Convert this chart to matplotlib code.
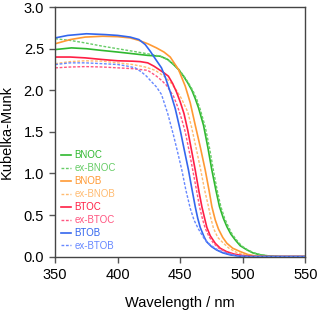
import matplotlib.pyplot as plt

plt.rcParams['font.family'] = ['Liberation Sans', 'DejaVu Sans']

# wavelength (nm) / Kubelka-Munk values
bnoc_x = [350, 363, 375, 387, 400, 412, 424, 434, 440, 444.6, 448.6, 452.6, 456, 459.3, 462, 464.6, 468.6, 472, 475.3, 478.5,
          481.4, 484.5, 487.3, 490.5, 494, 498, 503.4, 508, 514, 522, 530, 550]
bnoc_y = [2.49, 2.51, 2.50, 2.48, 2.46, 2.44, 2.42, 2.41, 2.37, 2.31, 2.25, 2.17, 2.09, 2.0, 1.9, 1.79, 1.58, 1.32, 1.04, 0.8,
          0.6, 0.46, 0.36, 0.27, 0.2, 0.13, 0.08, 0.045, 0.02, 0.005, 0.0, 0.0]

ex_bnoc_x = [350, 362, 374, 388, 400, 412, 423.5, 434, 440, 445, 449, 453, 456.5, 460, 463, 466, 470, 473.5, 476.5, 479.5,
             482.5, 485.5, 488.5, 491.5, 495, 499, 504, 509, 515, 523, 532, 550]
ex_bnoc_y = [2.62, 2.60, 2.57, 2.53, 2.50, 2.47, 2.44, 2.41, 2.37, 2.31, 2.25, 2.17, 2.09, 2.0, 1.9, 1.77, 1.56, 1.3, 1.04, 0.8,
             0.6, 0.46, 0.36, 0.27, 0.2, 0.13, 0.08, 0.045, 0.02, 0.005, 0.0, 0.0]

bnob_x = [350, 362, 374, 388, 400, 410, 417, 424, 431, 437, 442, 448.6, 454, 458, 462, 466, 470, 473, 475.3, 478,
          480.6, 484, 487.3, 492, 498, 504, 511, 520, 550]
bnob_y = [2.56, 2.61, 2.64, 2.65, 2.645, 2.63, 2.6, 2.56, 2.51, 2.46, 2.4, 2.25, 2.05, 1.85, 1.58, 1.32, 1.04, 0.8, 0.6, 0.44,
          0.33, 0.23, 0.16, 0.1, 0.06, 0.025, 0.005, 0.0, 0.0]

ex_bnob_x = [350, 362, 374, 388, 400, 412, 422, 430, 437, 442, 447, 451, 456, 459, 462.5, 466.4, 469.5, 472.6, 474.5, 476.6,
             480, 484.6, 489, 495, 502, 512, 550]
ex_bnob_y = [2.32, 2.345, 2.355, 2.35, 2.33, 2.31, 2.28, 2.24, 2.17, 2.1, 2.0, 1.9, 1.74, 1.56, 1.32, 1.04, 0.8, 0.6, 0.46, 0.34,
             0.23, 0.16, 0.1, 0.05, 0.02, 0.0, 0.0]

btoc_x = [350, 362, 374, 388, 400, 412, 418, 424, 429, 433, 437, 440.5, 444, 447, 450, 453, 456, 459, 462, 465, 467.3,
          469.5, 471.3, 474, 478, 482, 487, 493, 501, 510, 550]
btoc_y = [2.40, 2.40, 2.39, 2.37, 2.355, 2.35, 2.345, 2.33, 2.29, 2.25, 2.21, 2.17, 2.08, 1.98, 1.86, 1.72, 1.52, 1.28, 1.04, 0.78, 0.6,
          0.46, 0.35, 0.25, 0.16, 0.1, 0.06, 0.03, 0.01, 0.0, 0.0]

ex_btoc_x = [350, 362, 374, 388, 400, 412, 418, 424, 431, 435, 439, 444.6, 448, 451, 454, 457, 460, 463, 465.4, 468, 470,
             473, 476.6, 481, 487, 495, 505, 550]
ex_btoc_y = [2.27, 2.28, 2.285, 2.28, 2.27, 2.26, 2.25, 2.24, 2.17, 2.12, 2.06, 1.93, 1.8, 1.66, 1.5, 1.28, 1.04, 0.8, 0.6, 0.44, 0.34,
             0.24, 0.16, 0.1, 0.05, 0.02, 0.0, 0.0]

btob_x = [350, 360, 375, 390, 400, 410, 417, 422, 426, 430, 435, 438, 442, 446, 450, 453, 456.6, 459, 462, 464, 466,
          469, 471, 475, 479, 484, 490, 497, 505, 550]
btob_y = [2.63, 2.66, 2.68, 2.67, 2.66, 2.64, 2.61, 2.55, 2.47, 2.38, 2.27, 2.16, 1.98, 1.78, 1.52, 1.3, 1.04, 0.84, 0.6, 0.46, 0.35,
          0.24, 0.18, 0.12, 0.08, 0.045, 0.02, 0.005, 0.0, 0.0]

ex_btob_x = [350, 362, 374, 388, 400, 408, 414, 419, 423, 426, 431, 435, 440, 444.6, 448, 451.3, 454.5, 458, 461, 464.6,
             469, 474, 480, 487, 495, 505, 550]
ex_btob_y = [2.31, 2.33, 2.33, 2.32, 2.31, 2.29, 2.27, 2.22, 2.17, 2.12, 2.04, 1.95, 1.72, 1.46, 1.25, 1.04, 0.8, 0.58, 0.44, 0.33,
             0.22, 0.14, 0.08, 0.04, 0.01, 0.0, 0.0]

green = '#2fb82f'
orange = '#ff9933'
red = '#ff1f44'
blue = '#3366ee'

fig = plt.figure(figsize=(3.19, 3.11), dpi=100)
ax = fig.add_axes([0.173, 0.175, 0.784, 0.802])

ax.plot(bnoc_x, bnoc_y, color=green, lw=1.2, label='BNOC')
ax.plot(ex_bnoc_x, ex_bnoc_y, color='#66cc66', lw=1.0, ls=(0, (2, 1.2)), label='ex-BNOC')
ax.plot(bnob_x, bnob_y, color=orange, lw=1.2, label='BNOB')
ax.plot(ex_bnob_x, ex_bnob_y, color='#ffbb70', lw=1.0, ls=(0, (2, 1.2)), label='ex-BNOB')
ax.plot(btoc_x, btoc_y, color=red, lw=1.2, label='BTOC')
ax.plot(ex_btoc_x, ex_btoc_y, color='#ff5580', lw=1.0, ls=(0, (2, 1.2)), label='ex-BTOC')
ax.plot(btob_x, btob_y, color=blue, lw=1.2, label='BTOB')
ax.plot(ex_btob_x, ex_btob_y, color='#6688ff', lw=1.0, ls=(0, (2, 1.2)), label='ex-BTOB')

ax.set_xlim(350, 550)
ax.set_ylim(0, 3.0)
ax.set_xticks([350, 400, 450, 500, 550])
ax.set_yticks([0.0, 0.5, 1.0, 1.5, 2.0, 2.5, 3.0])
ax.set_yticklabels(['0.0', '0.5', '1.0', '1.5', '2.0', '2.5', '3.0'])
ax.tick_params(direction='out', length=4, width=1, color='#555555', labelsize=10.5, pad=4)
for s in ax.spines.values():
    s.set_color('#444444')
    s.set_linewidth(1.0)

ax.set_xlabel('Wavelength / nm', fontsize=10.5, labelpad=10)
ax.set_ylabel('Kubelka-Munk', fontsize=10.5, labelpad=7)

leg = ax.legend(loc='upper left', bbox_to_anchor=(0.006, 0.441), fontsize=7, frameon=False,
                handlelength=1.1, handletextpad=0.35, labelspacing=0.3, borderaxespad=0.0)
for t, l in zip(leg.get_texts(), leg.get_lines()):
    t.set_color(l.get_color())

fig.savefig('out.png', dpi=100)
